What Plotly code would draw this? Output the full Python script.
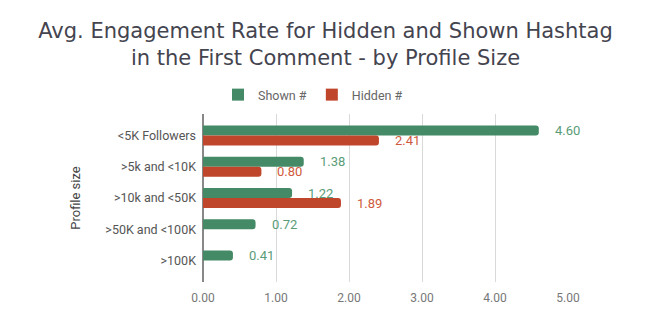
import plotly.graph_objects as go

# Average engagement rate by profile size
categories = ["<5K Followers", ">5k and <10K", ">10k and <50K", ">50K and <100K", ">100K"]
shown = [4.60, 1.38, 1.22, 0.72, 0.41]
hidden = [2.41, 0.80, 1.89, None, None]
x_ticks = [0, 1, 2, 3, 4, 5]

GREEN = "#458a66"
RED = "#c0462b"
GREEN_TXT = "#5a9c78"
RED_TXT = "#d05a3c"

fig = go.Figure()
fig.add_bar(y=categories, x=shown, orientation="h", name="Shown #", showlegend=False,
            marker=dict(color=GREEN, cornerradius=3, line=dict(width=0)))
fig.add_bar(y=categories, x=hidden, orientation="h", name="Hidden #", showlegend=False,
            marker=dict(color=RED, cornerradius=3, line=dict(width=0)))

# square legend keys for the two series
for name, color in (("Shown #", GREEN), ("Hidden #", RED)):
    fig.add_scatter(x=[None], y=[None], mode="markers", name=name,
                    marker=dict(symbol="square", size=12, color=color))

# value labels to the right of each bar
for series, color, dy in ((shown, GREEN_TXT, 5), (hidden, RED_TXT, -5)):
    for cat, v in zip(categories, series):
        if v is None:
            continue
        fig.add_annotation(x=v, y=cat, text=f"{v:.2f}", showarrow=False,
                           xanchor="left", yanchor="middle", xshift=14, yshift=dy,
                           font=dict(family="Roboto", size=13, color=color))

fig.update_layout(
    width=651, height=326,
    margin=dict(l=203, r=83, t=114, b=44),
    paper_bgcolor="white", plot_bgcolor="white",
    barmode="group", bargap=0.36, bargroupgap=0,
    title=dict(text="Avg. Engagement Rate for Hidden and Shown Hashtag<br>in the First Comment - by Profile Size",
               x=0.5, xref="container", xanchor="center",
               y=1 - 38 / 326, yref="container", yanchor="top",
               font=dict(family="DejaVu Sans", size=21, color="#44444f")),
    legend=dict(orientation="h", x=(218 - 203) / 365, xanchor="left", xref="paper",
                y=1 + 19 / 168, yanchor="middle", yref="paper",
                font=dict(family="Roboto", size=12.5, color="#666666"),
                traceorder="normal"),
    xaxis=dict(range=[0, 5], tickvals=x_ticks, tickformat=".2f",
               showgrid=True, gridcolor="#d9d9d9", gridwidth=1,
               zeroline=True, zerolinecolor="#888888", zerolinewidth=1.5,
               tickfont=dict(family="Roboto", size=12, color="#777777"),
               ticks="", showline=False, ticklabelstandoff=7),
    yaxis=dict(autorange=False, range=[4.69, -0.69], type="category",
               tickfont=dict(family="Roboto", size=12.5, color="#555555"),
               ticks="", ticklabelstandoff=6, showgrid=False,
               title=dict(text="Profile size", standoff=21,
                          font=dict(family="Roboto", size=13, color="#444444"))),
)

fig.write_html("out.html")
